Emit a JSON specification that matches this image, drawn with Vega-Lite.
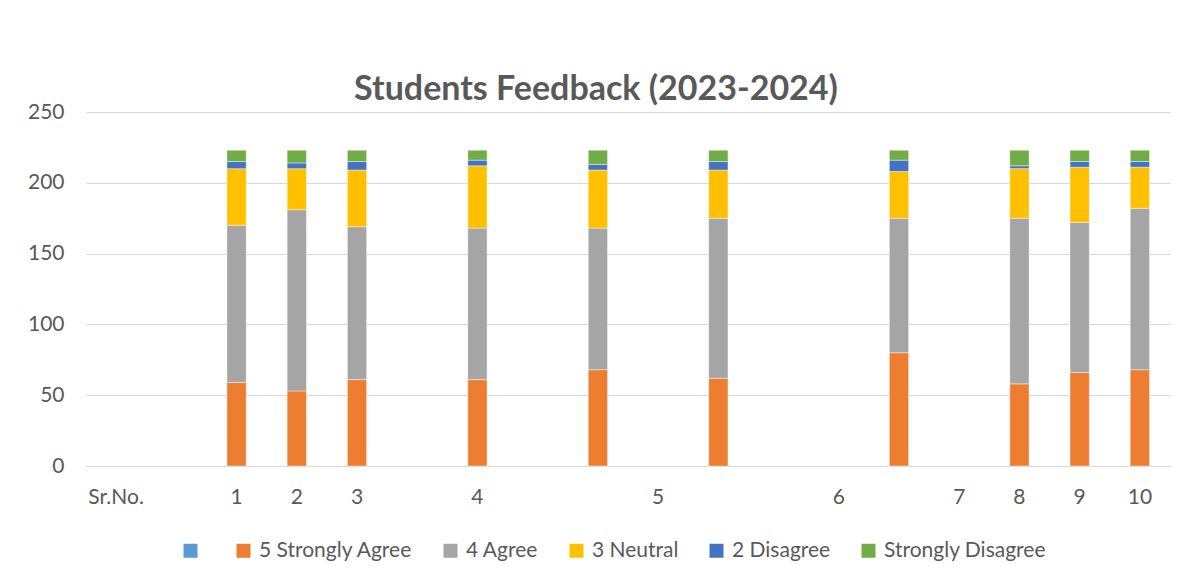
{
  "$schema": "https://vega.github.io/schema/vega-lite/v6.json",
  "autosize": "none",
  "width": 1084,
  "height": 354,
  "padding": {"left": 86, "top": 112, "right": 16, "bottom": 118},
  "background": "#ffffff",
  "title": {
    "text": "Students Feedback (2023-2024)",
    "font": "Lato",
    "fontSize": 34,
    "fontWeight": "bold",
    "color": "#595959",
    "anchor": "middle",
    "dx": -32,
    "offset": -6
  },
  "data": {
    "values": [
      {"slot": 2, "5 Strongly Agree": 59, "4 Agree": 111, "3 Neutral": 40, "2 Disagree": 5, "Strongly Disagree": 8},
      {"slot": 3, "5 Strongly Agree": 53, "4 Agree": 128, "3 Neutral": 29, "2 Disagree": 4, "Strongly Disagree": 9},
      {"slot": 4, "5 Strongly Agree": 61, "4 Agree": 108, "3 Neutral": 40, "2 Disagree": 6, "Strongly Disagree": 8},
      {"slot": 6, "5 Strongly Agree": 61, "4 Agree": 107, "3 Neutral": 44, "2 Disagree": 4, "Strongly Disagree": 7},
      {"slot": 8, "5 Strongly Agree": 68, "4 Agree": 100, "3 Neutral": 41, "2 Disagree": 4, "Strongly Disagree": 10},
      {"slot": 10, "5 Strongly Agree": 62, "4 Agree": 113, "3 Neutral": 34, "2 Disagree": 6, "Strongly Disagree": 8},
      {"slot": 13, "5 Strongly Agree": 80, "4 Agree": 95, "3 Neutral": 33, "2 Disagree": 8, "Strongly Disagree": 7},
      {"slot": 15, "5 Strongly Agree": 58, "4 Agree": 117, "3 Neutral": 35, "2 Disagree": 2, "Strongly Disagree": 11},
      {"slot": 16, "5 Strongly Agree": 66, "4 Agree": 106, "3 Neutral": 39, "2 Disagree": 4, "Strongly Disagree": 8},
      {"slot": 17, "5 Strongly Agree": 68, "4 Agree": 114, "3 Neutral": 29, "2 Disagree": 4, "Strongly Disagree": 8}
    ]
  },
  "transform": [
    {"fold": ["5 Strongly Agree", "4 Agree", "3 Neutral", "2 Disagree", "Strongly Disagree"], "as": ["series", "value"]},
    {"calculate": "indexof(['5 Strongly Agree','4 Agree','3 Neutral','2 Disagree','Strongly Disagree'], datum.series)", "as": "ord"}
  ],
  "mark": {"type": "bar", "stroke": "#ffffff", "strokeWidth": 0.6, "strokeOpacity": 0.7},
  "encoding": {
    "x": {
      "field": "slot",
      "type": "ordinal",
      "title": null,
      "scale": {"domain": [0,1,2,3,4,5,6,7,8,9,10,11,12,13,14,15,16,17], "paddingInner": 0.68, "paddingOuter": 0.34},
      "axis": {
        "labelExpr": "['Sr.No.','','1','2','3','','4','','','5','','','6','','7','8','9','10'][datum.value]",
        "labelAngle": 0,
        "ticks": false,
        "domain": true,
        "domainColor": "#D9D9D9",
        "domainWidth": 1,
        "grid": false,
        "labelPadding": 20,
        "labelFont": "Lato",
        "labelFontSize": 21,
        "labelColor": "#595959"
      }
    },
    "y": {
      "field": "value",
      "type": "quantitative",
      "aggregate": "sum",
      "stack": "zero",
      "title": null,
      "scale": {"domain": [0, 250], "nice": false},
      "axis": {
        "values": [0, 50, 100, 150, 200, 250],
        "ticks": false,
        "domain": false,
        "grid": true,
        "gridColor": "#D9D9D9",
        "gridWidth": 1,
        "labelPadding": 22,
        "labelFont": "Lato",
        "labelFontSize": 21,
        "labelColor": "#595959"
      }
    },
    "color": {
      "field": "series",
      "type": "nominal",
      "scale": {
        "domain": ["Sr.No.", "5 Strongly Agree", "4 Agree", "3 Neutral", "2 Disagree", "Strongly Disagree"],
        "range": ["#5B9BD5", "#ED7D31", "#A5A5A5", "#FFC000", "#4472C4", "#70AD47"]
      },
      "legend": {
        "title": null,
        "orient": "none",
        "direction": "horizontal",
        "legendX": 94,
        "legendY": 428,
        "symbolType": "square",
        "symbolSize": 196,
        "symbolStrokeWidth": 0,
        "labelExpr": "datum.value == 'Sr.No.' ? '' : datum.label",
        "labelFont": "Lato",
        "labelFontSize": 21,
        "labelLimit": 0,
        "labelColor": "#595959",
        "labelOffset": 5,
        "columnPadding": 27
      }
    },
    "order": {"field": "ord", "type": "quantitative", "sort": "ascending"}
  },
  "config": {
    "view": {"stroke": null}
  }
}
